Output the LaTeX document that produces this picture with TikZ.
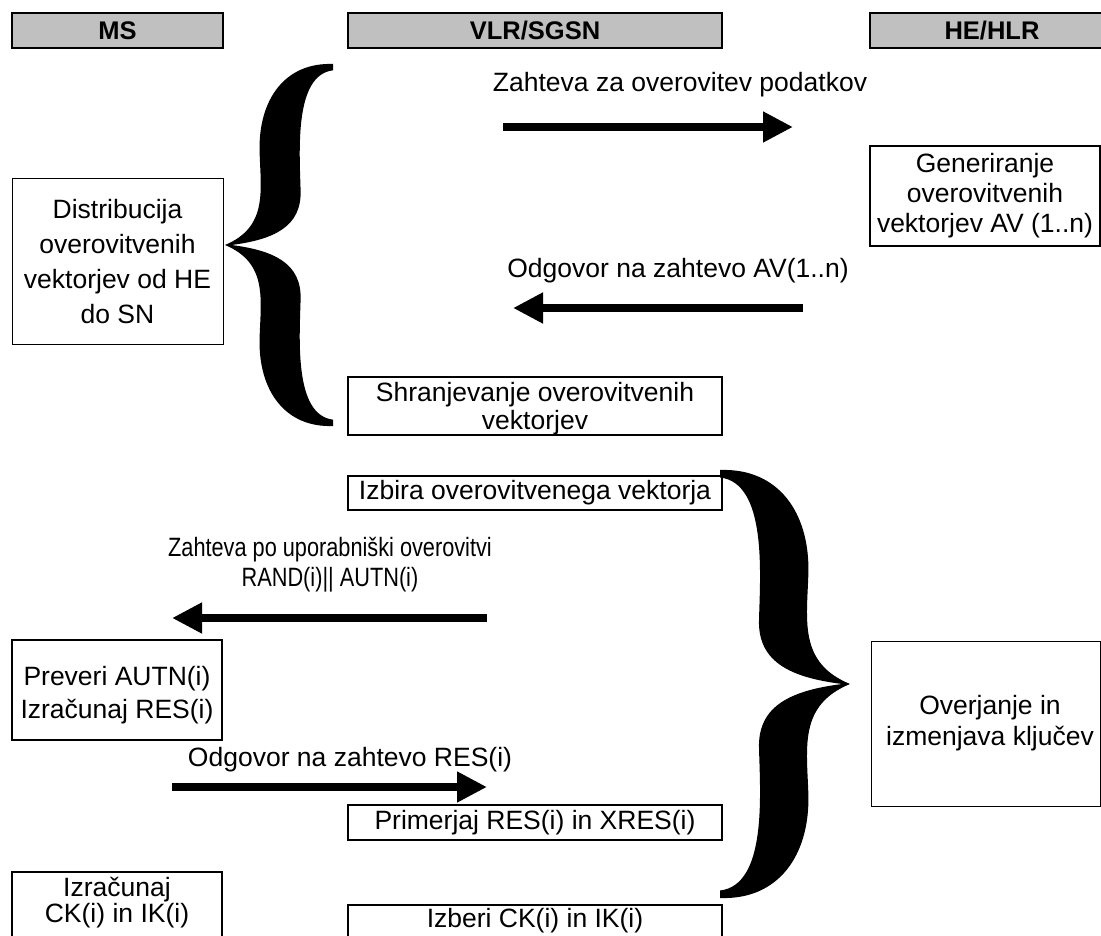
\documentclass[tikz,border=0pt]{standalone}
\usepackage{fontspec}
\setmainfont{Liberation Sans}
\newfontfamily\narrowfont[FakeStretch=0.82]{Liberation Sans}
\usetikzlibrary{arrows.meta}
\definecolor{hdrgray}{RGB}{192,192,192}
\tikzset{
  body/.style={font=\fontsize{26.5}{30}\selectfont},
  hdr/.style={draw, line width=2.5pt, fill=hdrgray, inner sep=0pt, minimum height=35pt,
    font=\fontsize{25.5}{30}\selectfont\bfseries},
  box/.style={draw, line width=2pt, inner sep=0pt, align=center, body},
  thinbox/.style={box, line width=1pt},
  lbl/.style={body, inner sep=0pt, align=center},
  msg/.style={line width=7.5pt, -{Triangle[length=30pt,width=29pt]}},
}
\begin{document}
\begin{tikzpicture}[x=1pt, y=-1pt]
\useasboundingbox (0,0) rectangle (1101,936);
\clip (0,0) rectangle (1101,936);

% headers
\node[hdr, minimum width=211pt] (hms) at (117.5,30.5) {MS};
\node[hdr, minimum width=374pt] (hvlr) at (535,30.5) {VLR/SGSN};
\node[hdr, minimum width=244pt] (hhe) at (992,30.5) {HE/HLR};

% boxes
\node[thinbox, minimum width=211pt, minimum height=165pt, font=\fontsize{26.5}{35}\selectfont] (dist) at (117.5,261.5)
  {Distribucija\\overovitvenih\\vektorjev od HE\\do SN};
\node[box, minimum width=230pt, minimum height=100pt] (gen) at (985,196)
  {Generiranje\\overovitvenih\\vektorjev AV (1..n)};
\node[box, minimum width=374pt, minimum height=58pt, anchor=north] (shr) at (535,376) {};
\node[lbl, font=\fontsize{26.5}{28}\selectfont] (shrt) at (535,409)
  {Shranjevanje overovitvenih\\vektorjev};
\node[box, minimum width=374pt, minimum height=34pt] (izb) at (535,493) {Izbira overovitvenega vektorja};
\node[box, minimum width=210pt, minimum height=100pt] (prev) at (117,690) {};
\node[lbl, font=\fontsize{26.5}{33}\selectfont] (prevt) at (117,695)
  {Preveri AUTN(i)\\Izračunaj RES(i)};
\node[box, minimum width=374pt, minimum height=35pt] (prim) at (535,822.5) {Primerjaj RES(i) in XRES(i)};
\node[box, minimum width=374pt, minimum height=60pt, anchor=north] (izbck) at (535,904) {};
\node[lbl] (izbckt) at (535,921) {Izberi CK(i) in IK(i)};
\node[box, minimum width=210pt, minimum height=90pt, anchor=north] (izr) at (117,871) {};
\node[lbl, font=\fontsize{26.5}{26}\selectfont] (izrt) at (117,903) {Izračunaj\\CK(i) in IK(i)};
\node[thinbox, minimum width=229pt, minimum height=165pt] (ovr) at (985.5,723.5) {};
\node[lbl, font=\fontsize{26.5}{31}\selectfont] (ovrt) at (990,723.5) {Overjanje in\\izmenjava ključev};

% message labels
\node[lbl, anchor=base] (l1) at (680,92) {Zahteva za overovitev podatkov};
\node[lbl, anchor=base] (l2) at (678,277) {Odgovor na zahtevo AV(1..n)};
\node[lbl, font=\fontsize{26.5}{30}\narrowfont] (l3) at (330,565)
  {Zahteva po uporabniški overovitvi\\RAND(i)|| AUTN(i)};
\node[lbl, anchor=base] (l4) at (350,766) {Odgovor na zahtevo RES(i)};

% arrows
\coordinate (a1s) at (503,127); \coordinate (a1e) at (793,127);
\coordinate (a2s) at (803,308); \coordinate (a2e) at (513,308);
\coordinate (a3s) at (487,618); \coordinate (a3e) at (172,618);
\coordinate (a4s) at (172,787); \coordinate (a4e) at (487,787);
\draw[msg] (a1s) -- (a1e);
\draw[msg] (a2s) -- (a2e);
\draw[msg] (a3s) -- (a3e);
\draw[msg] (a4s) -- (a4e);

% braces
\begin{scope}[shift={(225,245)}, xscale=108, yscale=-181]
\fill (1,1) .. controls (0.55,1.01) and (0.31,0.80) .. (0.32,0.52)
  .. controls (0.33,0.30) and (0.40,0.10) .. (0,0)
  .. controls (0.40,-0.10) and (0.33,-0.30) .. (0.32,-0.52)
  .. controls (0.31,-0.80) and (0.55,-1.01) .. (1,-1)
  -- (1,-0.965)
  .. controls (0.64,-0.94) and (0.69,-0.52) .. (0.70,-0.30)
  .. controls (0.71,-0.10) and (0.45,-0.03) .. (0.06,0)
  .. controls (0.45,0.03) and (0.71,0.10) .. (0.70,0.30)
  .. controls (0.69,0.52) and (0.64,0.94) .. (1,0.965)
  -- cycle;
\end{scope}
\begin{scope}[shift={(850,684)}, xscale=-130, yscale=-214]
\fill (1,1) .. controls (0.55,1.01) and (0.31,0.80) .. (0.32,0.52)
  .. controls (0.33,0.30) and (0.40,0.10) .. (0,0)
  .. controls (0.40,-0.10) and (0.33,-0.30) .. (0.32,-0.52)
  .. controls (0.31,-0.80) and (0.55,-1.01) .. (1,-1)
  -- (1,-0.965)
  .. controls (0.64,-0.94) and (0.69,-0.52) .. (0.70,-0.30)
  .. controls (0.71,-0.10) and (0.45,-0.03) .. (0.06,0)
  .. controls (0.45,0.03) and (0.71,0.10) .. (0.70,0.30)
  .. controls (0.69,0.52) and (0.64,0.94) .. (1,0.965)
  -- cycle;
\end{scope}
\end{tikzpicture}
\end{document}
